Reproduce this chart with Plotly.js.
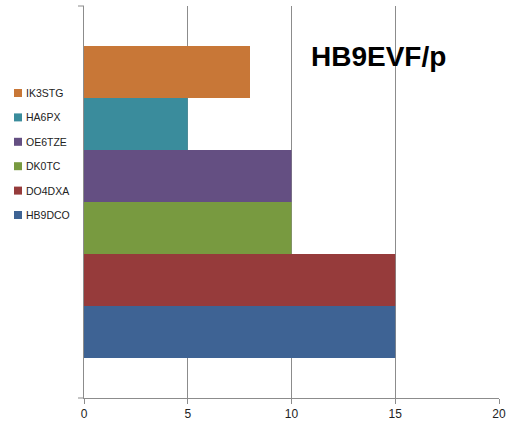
<!DOCTYPE html>
<html><head><meta charset="utf-8">
<script src="https://cdn.plot.ly/plotly-3.0.1.min.js"></script>
<style>html,body{margin:0;padding:0;background:#fff}#chart{width:508px;height:423px}</style>
</head><body><div id="chart"></div>
<script>
const seriesNames = ["HB9DCO","DO4DXA","DK0TC","OE6TZE","HA6PX","IK3STG"];
const seriesValues = [15,15,10,10,5,8];
const seriesColors = ["#3E6394","#963B3B","#789A40","#644F82","#3A8C9C","#C87737"];
const xTicks = [0,5,10,15,20];
const chartTitle = "HB9EVF/p";

const W = 508, H = 423, ML = 84, MR = 9, MT = 6, MB = 25;
const PW = W - ML - MR, PH = H - MT - MB;
const px2x = p => (p - ML) / PW;
const py2y = p => (H - MB - p) / PH;

const traces = seriesNames.map((n,i)=>({
  type:'bar', orientation:'h', name:n, x:[seriesValues[i]], y:[0],
  marker:{color:seriesColors[i], line:{width:0}}, hoverinfo:'x+name', showlegend:false
}));

// custom legend (Excel style: reversed order, square + label)
const legendShapes = [], legendAnn = [];
const legTop = 93, legStep = 24.4;
seriesNames.slice().reverse().forEach((n,k)=>{
  const cy = legTop + k*legStep;
  const col = seriesColors[seriesNames.length-1-k];
  legendShapes.push({type:'rect', xref:'paper', yref:'paper', x0:px2x(14), x1:px2x(22),
    y0:py2y(cy+4), y1:py2y(cy-4), fillcolor:col, line:{width:0}});
  legendAnn.push({text:n, xref:'paper', yref:'paper', x:px2x(24), y:py2y(cy), xanchor:'left', yanchor:'middle',
    showarrow:false, font:{family:'Liberation Sans, Arial, sans-serif', size:10.5, color:'#222'}});
});

const layout = {
  width:W, height:H,
  margin:{l:ML, r:MR, t:MT, b:MB},
  paper_bgcolor:'#fff', plot_bgcolor:'#fff',
  barmode:'group', bargap:0.204, bargroupgap:0,
  showlegend:false,
  xaxis:{range:[0,20], tickvals:xTicks, showgrid:true, gridcolor:'#8c8c8c', gridwidth:1,
    zeroline:false, showline:true, linecolor:'#8c8c8c', linewidth:1,
    ticks:'outside', ticklen:5, tickcolor:'#8c8c8c',
    tickfont:{family:'Liberation Sans, Arial, sans-serif', size:12, color:'#222'}, fixedrange:true},
  yaxis:{range:[-0.5,0.5], showticklabels:false, showgrid:false, zeroline:false,
    showline:true, linecolor:'#8c8c8c', linewidth:1, ticks:'', fixedrange:true},
  annotations:[{text:'<b>'+chartTitle+'</b>', xref:'paper', yref:'paper', x:px2x(378), y:py2y(57),
    xanchor:'center', yanchor:'middle', showarrow:false,
    font:{family:'Liberation Sans, Arial, sans-serif', size:28, color:'#000'}}].concat(legendAnn),
  shapes:[{type:'line', xref:'paper', yref:'paper', x0:px2x(78), x1:0, y0:1, y1:1, line:{color:'#8c8c8c', width:1}},
          {type:'line', xref:'paper', yref:'paper', x0:px2x(78), x1:0, y0:0, y1:0, line:{color:'#8c8c8c', width:1}}].concat(legendShapes)
};
Plotly.newPlot('chart', traces, layout, {displayModeBar:false, staticPlot:true});
</script></body></html>
